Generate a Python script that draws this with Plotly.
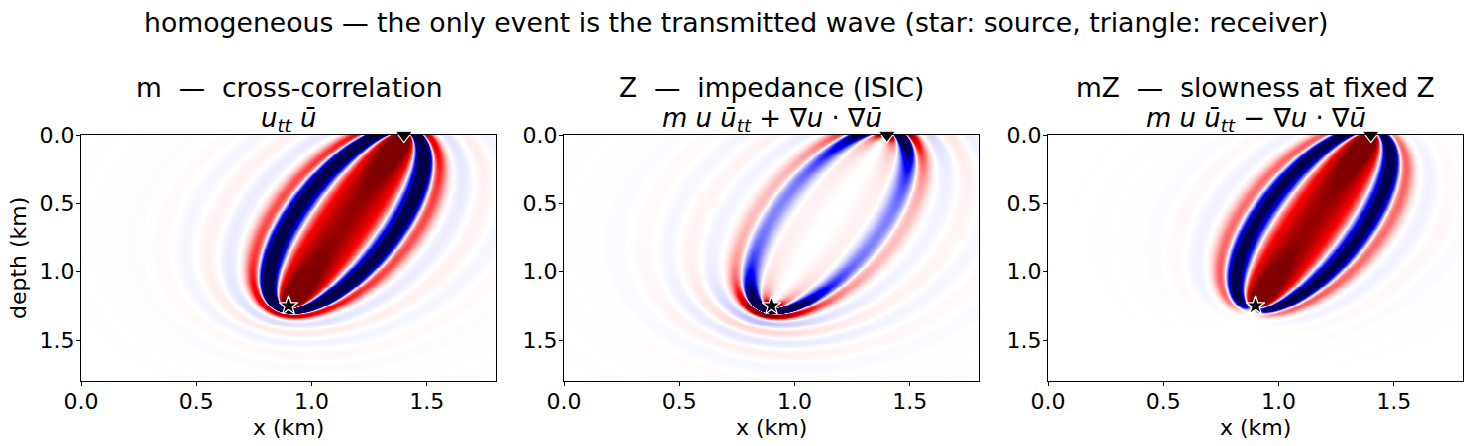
import numpy as np
import plotly.graph_objects as go

# ---------------- data ----------------
SOURCE = [0.90, 1.25]      # star (x km, depth km)
RECEIVER = [1.40, 0.00]    # triangle (x km, depth km)
X_RANGE = [0.0, 1.8]
Z_RANGE = [0.0, 1.8]
TICK_VALUES = [0.0, 0.5, 1.0, 1.5]
TICK_LABELS = ["0.0", "0.5", "1.0", "1.5"]

SUPTITLE = "homogeneous \u2014 the only event is the transmitted wave (star: source, triangle: receiver)"
PANEL_TITLES = ["m  \u2014  cross-correlation",
                "Z  \u2014  impedance (ISIC)",
                "mZ  \u2014  slowness at fixed Z"]
PANEL_FORMULAS = ["<i>u</i><sub><i>tt</i></sub> <i>\u016b</i>",
                  "<i>m u \u016b</i><sub><i>tt</i></sub> + \u2207<i>u</i> \u00b7 \u2207<i>\u016b</i>",
                  "<i>m u \u016b</i><sub><i>tt</i></sub> \u2212 \u2207<i>u</i> \u00b7 \u2207<i>\u016b</i>"]
# angular weighting of each kernel: 0 -> none, +1 -> (1+cos)/2, -1 -> (1-cos)/2
PANEL_ANGLE_SIGN = [0, +1, -1]
PANEL_CLIP = [1.0, 0.5, 1.0]

# band structure of the transmitted-wave kernel vs. excess path (km)
BAND_PHASE_SCALE = 0.43    # km
FIRST_TROUGH = 0.075       # km, excess path of first (blue) band
ENV_AXIS = 0.58            # amplitude of the on-axis (central) lobe
ENV_AXIS_DECAY = 0.0154
ENV_MAIN = 1.15            # amplitude of the first side bands
ENV_CENTER = 0.08
ENV_WIDTH = 0.065
ENV_TAIL = 0.075           # faint outer rings
ENV_DECAY = 0.45

# ---------------- kernel fields ----------------
nx, nz = 420, 260
x = np.linspace(X_RANGE[0], X_RANGE[1], nx)
z = np.linspace(Z_RANGE[0], Z_RANGE[1], nz)
X, Zg = np.meshgrid(x, z)
xs, zs = SOURCE
xr, zr = RECEIVER
L = np.hypot(xs - xr, zs - zr)
rs = np.maximum(np.hypot(X - xs, Zg - zs), 0.006)
rr = np.maximum(np.hypot(X - xr, Zg - zr), 0.006)
delta = rs + rr - L
cosang = ((X - xs) * (X - xr) + (Zg - zs) * (Zg - zr)) / (rs * rr)
phase = np.pi * np.log1p(delta / BAND_PHASE_SCALE) / np.log1p(FIRST_TROUGH / BAND_PHASE_SCALE)
env = (ENV_AXIS * np.exp(-delta / ENV_AXIS_DECAY)
       + ENV_MAIN * np.exp(-((delta - ENV_CENTER) / ENV_WIDTH) ** 2)
       + ENV_TAIL * np.exp(-delta / ENV_DECAY))
geom = (L / 2) / np.sqrt(rs * rr)
base = geom * env * np.cos(phase)

seismic = [[0.0, "rgb(0,0,77)"], [0.25, "rgb(0,0,255)"], [0.5, "rgb(255,255,255)"],
           [0.75, "rgb(255,0,0)"], [1.0, "rgb(128,0,0)"]]

FONT = "DejaVu Sans"
W, H = 1472, 446
x_px = [(81, 496), (564, 979), (1048, 1463)]
y_top, y_bot = 135, 381

fig = go.Figure()
for i in range(3):
    s = PANEL_ANGLE_SIGN[i]
    if s == 0:
        k = base
    else:
        k = base * (1 + s * cosang) / 2
    ax = "" if i == 0 else str(i + 1)
    fig.add_trace(go.Heatmap(x=x, y=z, z=k.astype(np.float32), colorscale=seismic,
                             zmin=-PANEL_CLIP[i], zmax=PANEL_CLIP[i], showscale=False,
                             hoverinfo="skip", xaxis="x" + ax, yaxis="y" + ax))
    fig.add_trace(go.Scatter(x=[SOURCE[0]], y=[SOURCE[1]], mode="markers", cliponaxis=False,
                             marker=dict(symbol="star", size=14, color="black",
                                         line=dict(color="white", width=1.2)),
                             showlegend=False, hoverinfo="skip", xaxis="x" + ax, yaxis="y" + ax))
    fig.add_trace(go.Scatter(x=[RECEIVER[0]], y=[RECEIVER[1]], mode="markers", cliponaxis=False,
                             marker=dict(symbol="triangle-down", size=15, color="black",
                                         line=dict(color="white", width=1.2)),
                             showlegend=False, hoverinfo="skip", xaxis="x" + ax, yaxis="y" + ax))
    axis_common = dict(showline=True, mirror=True, linecolor="black", linewidth=1,
                       ticks="outside", ticklen=4, tickwidth=1, tickcolor="black",
                       tickvals=TICK_VALUES, ticktext=TICK_LABELS, showgrid=False, zeroline=False,
                       automargin=False, ticklabelstandoff=-3,
                       tickfont=dict(family=FONT, size=22, color="black"))
    x0, x1 = x_px[i]
    fig.layout["xaxis" + ax] = dict(axis_common, domain=[x0 / W, x1 / W], range=X_RANGE,
                                    anchor="y" + ax)
    fig.layout["yaxis" + ax] = dict(axis_common, domain=[1 - y_bot / H, 1 - y_top / H],
                                    range=[Z_RANGE[1], Z_RANGE[0]], anchor="x" + ax)
    xc = (x0 + x1) / 2 / W
    fig.add_annotation(x=xc, y=1 - 87 / H, xref="paper", yref="paper", text=PANEL_TITLES[i],
                       showarrow=False, xanchor="center", yanchor="middle",
                       font=dict(family=FONT, size=26.5, color="black"))
    fig.add_annotation(x=xc, y=1 - 119 / H, xref="paper", yref="paper", text=PANEL_FORMULAS[i],
                       showarrow=False, xanchor="center", yanchor="middle",
                       font=dict(family=FONT, size=26, color="black"))
    fig.add_annotation(x=xc, y=1 - 427 / H, xref="paper", yref="paper", text="x (km)",
                       showarrow=False, xanchor="center", yanchor="middle",
                       font=dict(family=FONT, size=22, color="black"))

fig.add_annotation(x=18 / W, y=1 - 258 / H, xref="paper", yref="paper", text="depth (km)",
                   textangle=-90, showarrow=False, xanchor="center", yanchor="middle",
                   font=dict(family=FONT, size=22, color="black"))
fig.add_annotation(x=0.5, y=1 - 22 / H, xref="paper", yref="paper", text=SUPTITLE,
                   showarrow=False, xanchor="center", yanchor="middle",
                   font=dict(family=FONT, size=26.7, color="black"))

fig.update_layout(width=W, height=H, margin=dict(l=0, r=0, t=0, b=0, autoexpand=False),
                  paper_bgcolor="white", plot_bgcolor="white", showlegend=False)
fig.write_html("out.html", config={"displayModeBar": False},
               post_script="document.body.style.margin='0px';")
